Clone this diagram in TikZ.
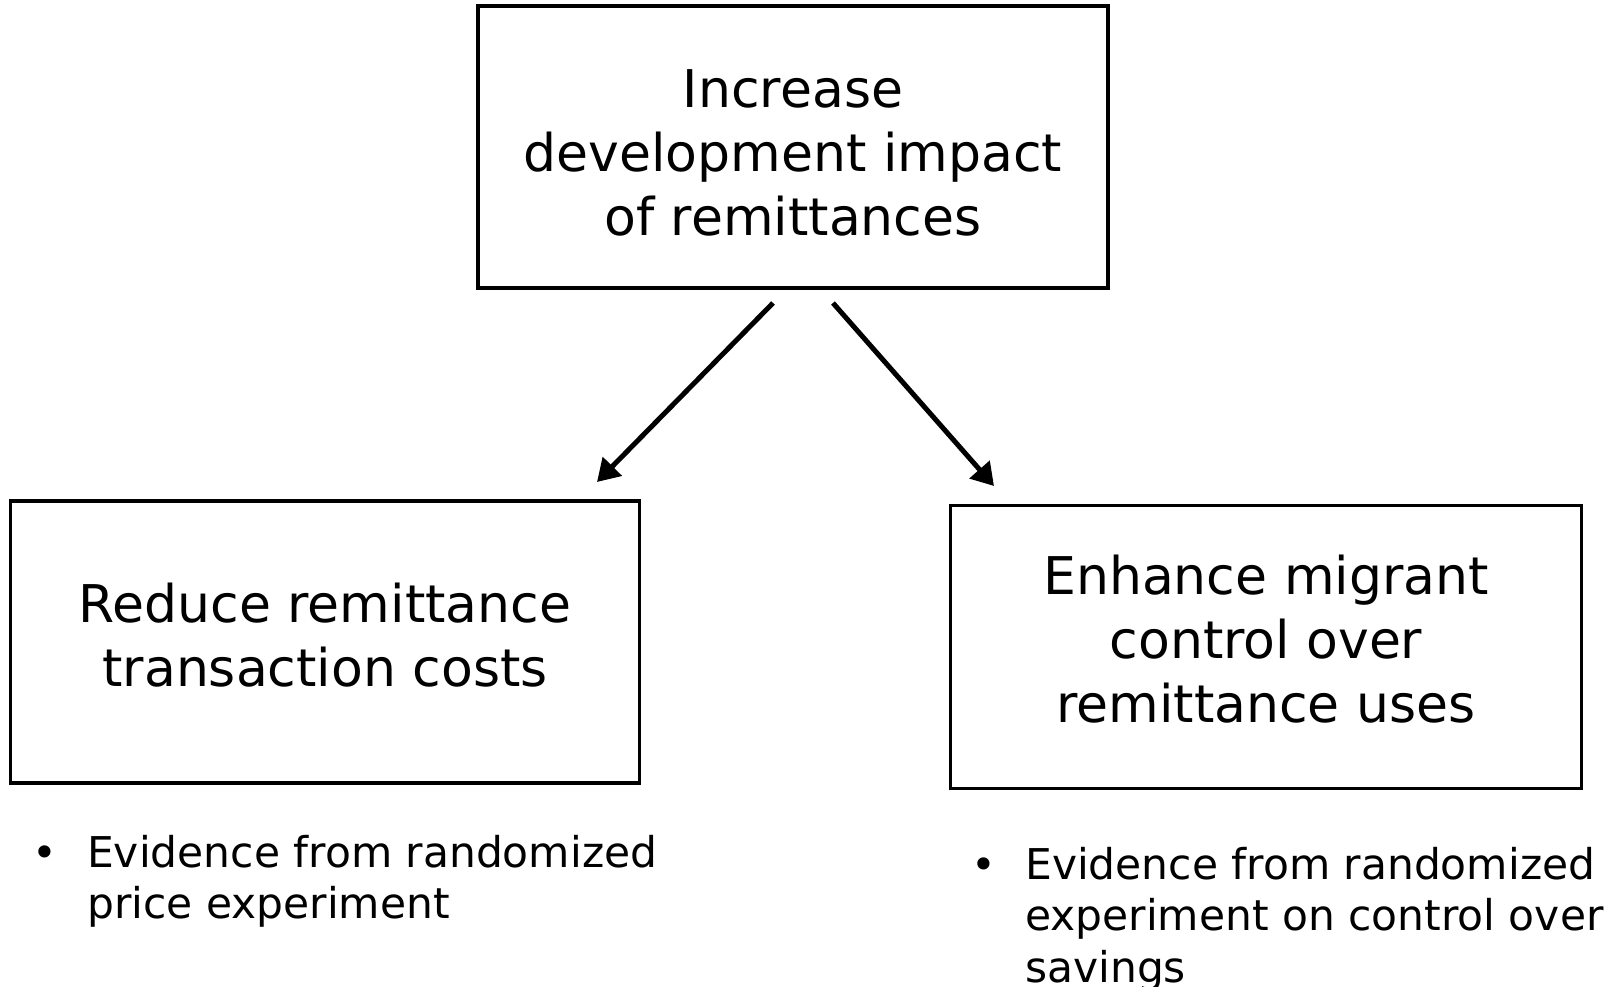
\documentclass[tikz,border=0pt]{standalone}
\usepackage{fontspec}
\setmainfont{DejaVu Sans}
\usetikzlibrary{arrows.meta}
\begin{document}
\begin{tikzpicture}[x=1pt,y=-1pt,
  goalbox/.style={draw=black, line width=3.5pt, inner sep=0pt},
  goaltext/.style={align=center, inner sep=0pt, font=\fontsize{52}{64}\selectfont},
  link/.style={line width=5pt, -{Triangle[length=22pt,width=26pt]}},
  note/.style={anchor=base west, align=left, inner sep=0pt,
    font=\fontsize{42.4}{51.5}\selectfont},
  dot/.style={anchor=base, inner sep=0pt, font=\fontsize{42}{51.5}\selectfont}]
\useasboundingbox (0,0) rectangle (1623,987);

% boxes
\node[goalbox, minimum width=630pt, minimum height=282pt] (top) at (793,147) {};
\node[goalbox, minimum width=629pt, minimum height=282pt] (left) at (325,642) {};
\node[goalbox, minimum width=631pt, minimum height=283pt] (right) at (1266,647) {};

% box labels
\node[goaltext] (toptext) at (793,153) {Increase\\development impact\\of remittances};
\node[goaltext] (lefttext) at (325,635) {Reduce remittance\\transaction costs};
\node[goaltext] (righttext) at (1266,639) {Enhance migrant\\control over\\remittance uses};

% arrow end points
\coordinate (ls) at (773,303);
\coordinate (le) at (597,482);
\coordinate (rs) at (833,303);
\coordinate (re) at (994,486);
\draw[link] (ls) -- (le);
\draw[link] (rs) -- (re);

% bullet notes (anchored at the baseline of their last line)
\node[dot] (b1) at (45,867) {•};
\node[note] (n1) at (87,918.5) {Evidence from randomized\\price experiment};
\node[dot] (b2) at (984,879) {•};
\node[note] (n2) at (1025,982) {Evidence from randomized\\experiment on control over\\savings};
\end{tikzpicture}
\end{document}
